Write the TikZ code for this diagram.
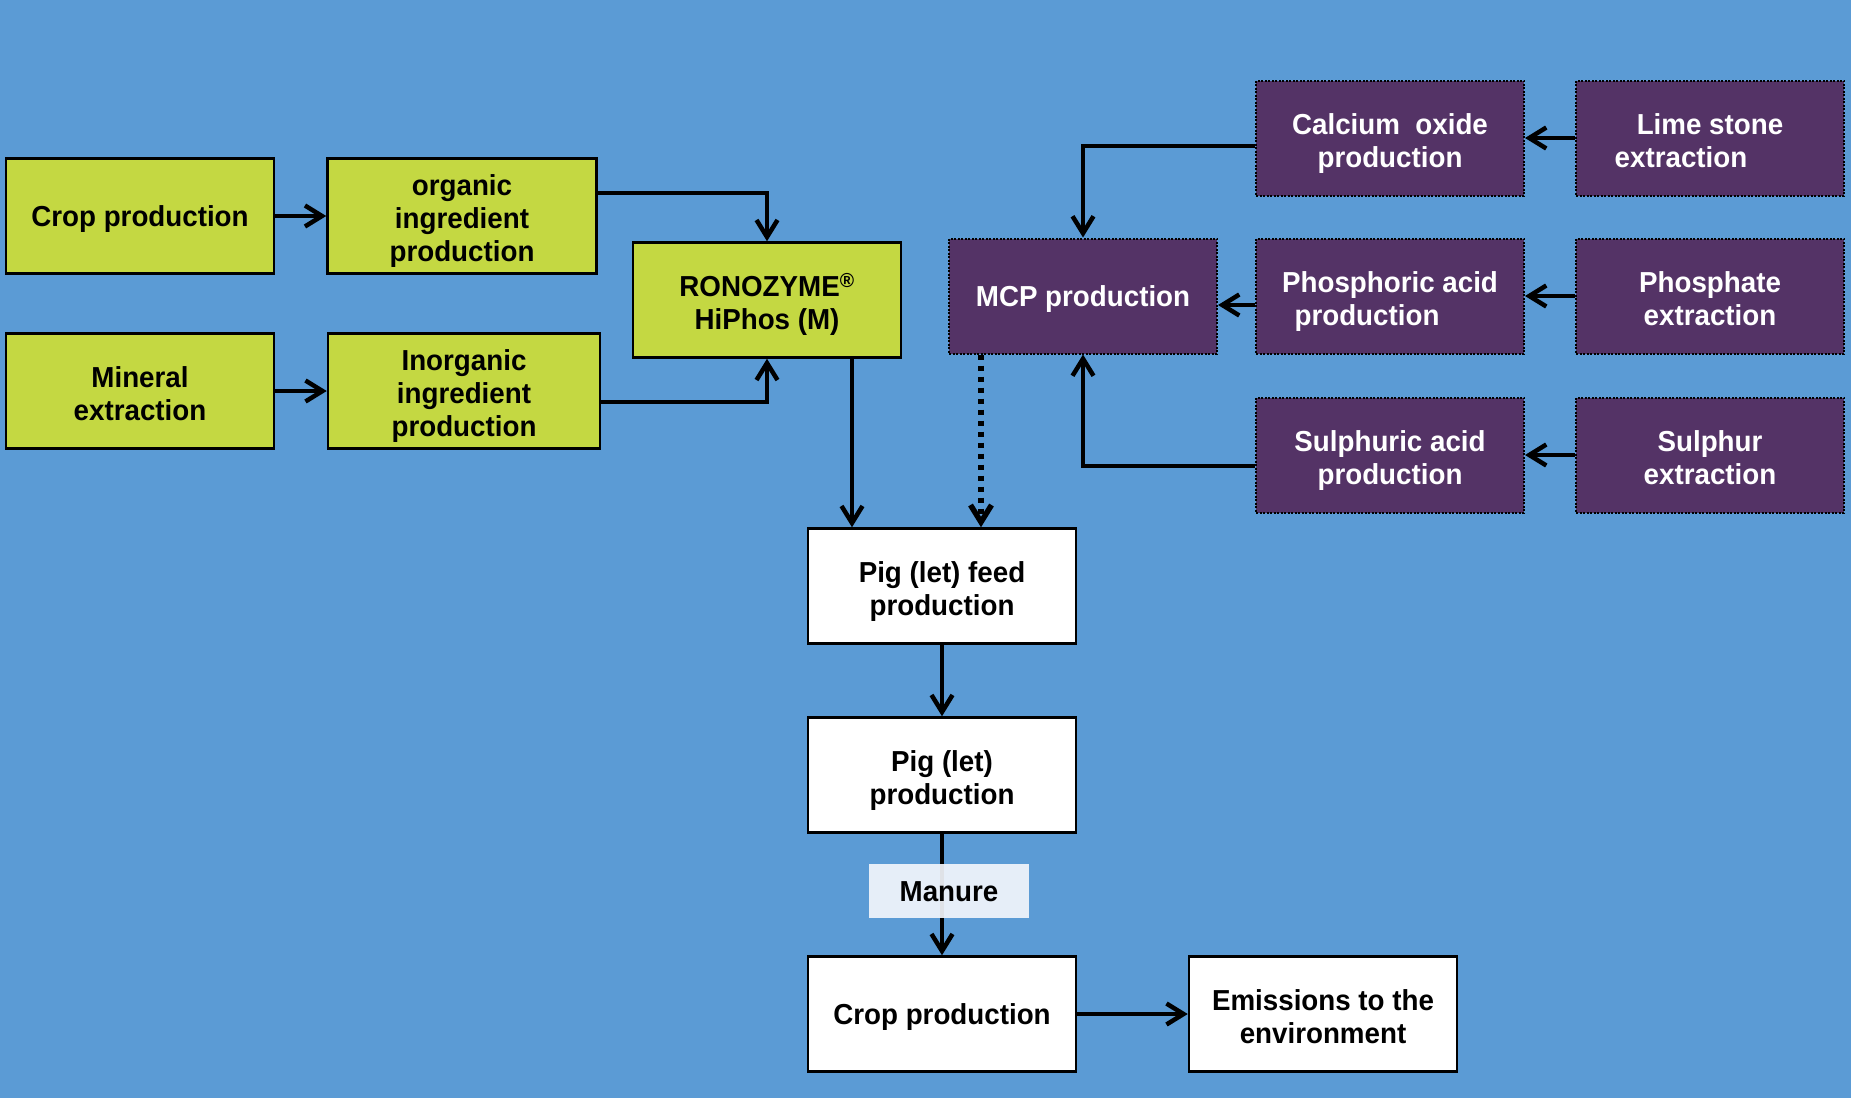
\documentclass[tikz,border=0pt]{standalone}
\usepackage{fontspec}
\setmainfont{Liberation Sans}[FakeStretch=0.96]
\usetikzlibrary{arrows.meta}
\definecolor{bg}{RGB}{91,155,213}
\definecolor{limeg}{RGB}{196,216,66}
\definecolor{plum}{RGB}{84,51,102}
\definecolor{manurefill}{RGB}{242,246,251}
\newcommand{\boxfont}{\fontsize{28.9}{33}\selectfont\bfseries}
\newcommand{\tsx}{\rule{0pt}{26.9pt}}
\newcommand{\tsm}{\rule{0pt}{31.5pt}}
\newcommand{\bsx}{\rule[-6.1pt]{0pt}{0pt}}
\begin{document}
\begin{tikzpicture}[x=1pt,y=-1pt,
  box/.style={minimum width=268pt, minimum height=115pt, inner sep=0pt, align=center,
    font=\boxfont, line width=2.5pt},
  gbox/.style={box, draw=black, fill=limeg},
  pbox/.style={box, draw=black, fill=plum, text=white, dash pattern=on 2pt off 1.5pt, line width=2pt},
  wbox/.style={box, draw=black, fill=white},
  conn/.style={line width=4.5pt, -{Straight Barb[length=17pt,width=21pt]}},
  dotconn/.style={conn, dash pattern=on 5.5pt off 5.5pt, line width=5.5pt},
  labelbox/.style={fill=manurefill, fill opacity=0.92, text opacity=1, minimum width=160pt,
    minimum height=54pt, inner sep=0pt, font=\boxfont}
]
\path[fill=bg, use as bounding box] (0,0) rectangle (1851,1098);

% green boxes
\node[gbox] (crop1) at (140,216) {\tsx Crop production\bsx};
\node[gbox, minimum width=269pt] (org) at (462,216) {\tsm organic\\ingredient\\production\bsx};
\node[gbox] (mineral) at (140,391) {\tsm Mineral\\extraction\bsx};
\node[gbox, minimum width=272pt] (inorg) at (464,391) {\tsm Inorganic\\ingredient\\production\bsx};
\node[gbox] (rono) at (767,300) {\tsm RONOZYME\textsuperscript{®}\\HiPhos (M)\bsx};

% purple boxes
\node[pbox] (mcp) at (1083,296) {\tsx MCP production\bsx};
\node[pbox] (cao) at (1390,138) {\tsm Calcium\ \ oxide\\production\bsx};
\node[pbox] (limes) at (1710,138) {\tsm Lime stone\\extraction\rule{58pt}{0pt}\bsx};
\node[pbox] (phos) at (1390,296) {\tsm Phosphoric acid\\production\rule{46pt}{0pt}\bsx};
\node[pbox] (phate) at (1710,296) {\tsm Phosphate\\extraction\bsx};
\node[pbox] (sulph) at (1390,455) {\tsm Sulphuric acid\\production\bsx};
\node[pbox] (sulphur) at (1710,455) {\tsm Sulphur\\extraction\bsx};

% white boxes
\node[wbox] (feed) at (942,586) {\tsm Pig (let) feed\\production\bsx};
\node[wbox] (pig) at (942,775) {\tsm Pig (let)\\production\bsx};
\node[wbox] (crop2) at (942,1014) {\tsx Crop production\bsx};
\node[wbox] (emis) at (1323,1014) {\tsm Emissions to the\\environment\bsx};

% connectors
\draw[conn] (crop1.east) -- (org.west);
\draw[conn] (mineral.east) -- (inorg.west);
\draw[conn] ([yshift=23pt]org.east) -| (rono.north);
\draw[conn] ([yshift=-11pt]inorg.east) -| (rono.south);
\draw[conn] ([xshift=85pt]rono.south) -- ([xshift=85pt]rono.south |- feed.north);
\draw[dotconn] ([xshift=-102pt]mcp.south) -- ([xshift=-102pt]mcp.south |- feed.north);
\draw[conn] ([yshift=-8pt]cao.west) -| (mcp.north);
\draw[conn] ([yshift=-11pt]sulph.west) -| (mcp.south);
\draw[conn] ([yshift=-9pt]phos.west) -- ([yshift=-9pt]mcp.east);
\draw[conn] (limes.west) -- (cao.east);
\draw[conn] (phate.west) -- (phos.east);
\draw[conn] (sulphur.west) -- (sulph.east);
\draw[conn] (feed.south) -- (pig.north);
\draw[conn] (pig.south) -- (crop2.north);
\draw[conn] (crop2.east) -- (emis.west);

\node[labelbox] (manure) at (949,891) {\tsx Manure\bsx};
\end{tikzpicture}
\end{document}
